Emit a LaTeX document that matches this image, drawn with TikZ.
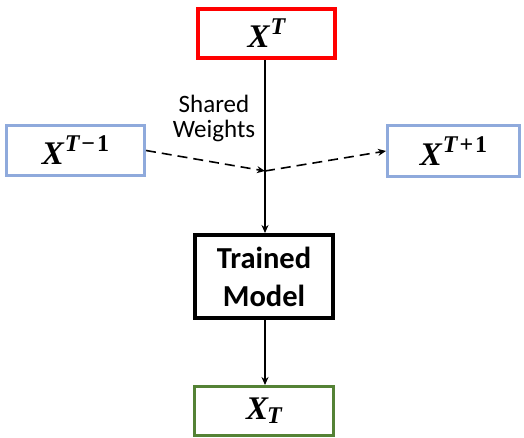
\documentclass[tikz,border=0pt]{standalone}
\usepackage{fontspec}
\newfontfamily\calib{Carlito}
\newfontfamily\mathfnt{Liberation Serif}
\usetikzlibrary{arrows.meta}
\definecolor{boxred}{HTML}{FF0000}
\definecolor{boxblue}{HTML}{8FAADC}
\definecolor{boxgreen}{HTML}{548235}
\newcommand{\xsup}[1]{{\mathfnt\bfseries\itshape\fontsize{33}{36}\selectfont X\kern1pt\raisebox{13pt}{\fontsize{24}{24}\selectfont #1}}}
\newcommand{\xsub}[1]{{\mathfnt\bfseries\itshape\fontsize{33}{36}\selectfont X\kern-1pt\raisebox{-4pt}{\fontsize{24}{24}\selectfont #1}}}
\newcommand{\op}[2]{{\upshape\kern2pt #1\kern2pt #2}}
\tikzset{
  box/.style={draw, fill=white, rectangle, inner sep=0pt, align=center},
  conn/.style={line width=1.6pt, -{Stealth[length=8pt,width=7pt]}},
  dconn/.style={conn, dash pattern=on 10pt off 6pt},
}
\begin{document}
\begin{tikzpicture}[x=1pt,y=-1pt]
\useasboundingbox[fill=white] (0,0) rectangle (524,438);
\node[box, draw=boxred, line width=4pt, minimum width=137pt, minimum height=49pt] (top) at (266.5,33.5) {\xsup{T}};
\node[box, draw=boxblue, line width=3pt, minimum width=138pt, minimum height=50pt] (left) at (75.5,150.5) {\xsup{T\op{−}{1}}};
\node[box, draw=boxblue, line width=3pt, minimum width=132pt, minimum height=51pt] (right) at (453.5,151) {\xsup{T\op{+}{1}}};
\node[box, draw=black, line width=4pt, minimum width=138pt, minimum height=83pt, font=\calib\bfseries\fontsize{30.5}{38}\selectfont] (model) at (264,276.5) {Trained\\Model};
\node[box, draw=boxgreen, line width=3pt, minimum width=139pt, minimum height=49pt] (out) at (264,411) {\xsub{T}};
\node[align=center, font=\calib\fontsize{25}{25}\selectfont] (lbl) at (214,118) {Shared\\Weights};
\coordinate (cross) at (265,171);
\draw[conn] (top.south -| cross) -- (model.north -| cross);
\draw[dconn] (left.east) -- (cross);
\draw[dconn] (cross) -- (right.west);
\draw[conn] (model.south -| cross) -- (out.north -| cross);
\end{tikzpicture}
\end{document}
